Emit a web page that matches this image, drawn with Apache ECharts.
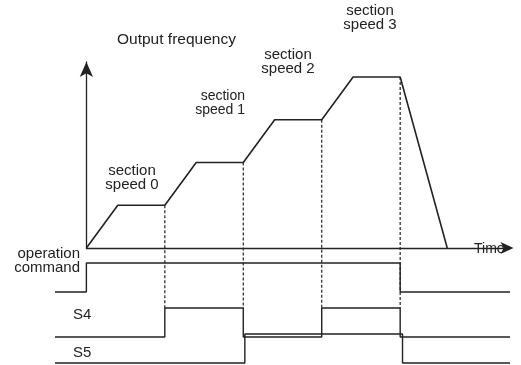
<!DOCTYPE html>
<html>
<head>
<meta charset="utf-8">
<script src="https://cdn.jsdelivr.net/npm/echarts@6/dist/echarts.min.js"></script>
<style>
  html, body { margin: 0; padding: 0; background: #fff; }
  #chart { width: 521px; height: 365px; }
</style>
</head>
<body>
<div id="chart"></div>
<script>
// output frequency: time (arbitrary units) vs section level
var freqTime = [0, 2, 5, 7, 10, 12, 15, 17, 20, 23];
var freqLevel = [0, 1, 1, 2, 2, 3, 3, 4, 4, 0];
// moments where the S4/S5 inputs switch the section speed
var switchTimes = [5, 10, 15, 20];
// digital signals (0 = low, 1 = high)
var runTime = [-2, 0, 0, 20, 20, 27];
var runLevel = [0, 0, 1, 1, 0, 0];
var s4Time = [-2, 5, 5, 10, 10, 15, 15, 20, 20, 27];
var s4Level = [0, 0, 1, 1, 0, 0, 1, 1, 0, 0];
var s5Time = [-2, 10.1, 10.1, 20.15, 20.15, 27];
var s5Level = [0, 0, 1, 1, 0, 0];

var ink = '#222';

function zip(xs, ys) {
  return xs.map(function (x, i) { return [x, ys[i]]; });
}

function signalSeries(idx, xs, ys) {
  return {
    type: 'line',
    xAxisIndex: idx,
    yAxisIndex: idx,
    data: zip(xs, ys),
    symbol: 'none',
    clip: false,
    silent: true,
    lineStyle: { color: ink, width: 1.4 }
  };
}

var hidden = { show: false };
function sigX() {
  return { type: 'value', min: -2, max: 27, show: false };
}
function sigY(idx) {
  return { type: 'value', min: 0, max: 1, show: false, gridIndex: idx };
}

var option = {
  backgroundColor: '#fff',
  animation: false,
  grid: [
    { left: 86.4, right: 11, top: 62, bottom: 117 },
    { left: 55, right: 11, top: 263, height: 29 },
    { left: 55, right: 11, top: 308, height: 29 },
    { left: 55, right: 11, top: 334, height: 29 }
  ],
  xAxis: [
    {
      type: 'value', gridIndex: 0, min: 0, max: 27,
      axisLine: {
        show: true, onZero: false,
        symbol: ['none', 'arrow'], symbolSize: [9, 13], symbolOffset: [0, 3.5],
        lineStyle: { color: ink, width: 1.3 }
      },
      axisTick: hidden, axisLabel: hidden, splitLine: hidden
    },
    Object.assign(sigX(), { gridIndex: 1 }),
    Object.assign(sigX(), { gridIndex: 2 }),
    Object.assign(sigX(), { gridIndex: 3 })
  ],
  yAxis: [
    {
      type: 'value', gridIndex: 0, min: 0, max: 4.35,
      axisLine: {
        show: true, onZero: false,
        symbol: ['none', 'arrow'], symbolSize: [10, 15],
        lineStyle: { color: ink, width: 1.3 }
      },
      axisTick: hidden, axisLabel: hidden, splitLine: hidden
    },
    sigY(1), sigY(2), sigY(3)
  ],
  series: [
    {
      type: 'line',
      xAxisIndex: 0,
      yAxisIndex: 0,
      data: zip(freqTime, freqLevel),
      symbol: 'none',
      clip: false,
      silent: true,
      lineStyle: { color: ink, width: 1.6 }
    },
    signalSeries(1, runTime, runLevel),
    signalSeries(2, s4Time, s4Level),
    signalSeries(3, s5Time, s5Level)
  ]
};

var chart = echarts.init(document.getElementById('chart'), null, { renderer: 'canvas' });
chart.setOption(option);

// dashed guides from each plateau corner down to the S4 high level
var guides = switchTimes.map(function (t) {
  var lvl = freqLevel[freqTime.indexOf(t)];
  var p1 = chart.convertToPixel({ gridIndex: 0 }, [t, lvl]);
  var p2 = chart.convertToPixel({ gridIndex: 2 }, [t, 1]);
  return {
    type: 'line',
    silent: true,
    shape: { x1: p1[0], y1: p1[1], x2: p1[0], y2: p2[1] },
    style: { stroke: ink, lineWidth: 1.2, lineDash: [3, 2] },
    z: 1
  };
});

function txt(str, x, y, align, size) {
  return {
    type: 'text',
    silent: true,
    x: x,
    y: y,
    style: {
      text: str,
      fill: ink,
      font: (size || 15) + 'px "Liberation Sans", Arial, sans-serif',
      align: align || 'center',
      verticalAlign: 'middle',
      lineHeight: 14.5
    },
    z: 10
  };
}

var labels = [
  txt('Output frequency', 117, 40, 'left', 15.5),
  txt('section\nspeed 0', 132, 178),
  txt('section\nspeed 1', 245, 103, 'right', 14),
  txt('section\nspeed 2', 288, 62),
  txt('section\nspeed 3', 370, 18),
  txt('Time', 474, 249, 'left', 14),
  txt('operation\ncommand', 80, 261, 'right'),
  txt('S4', 73, 315, 'left'),
  txt('S5', 73, 353, 'left')
];

chart.setOption({ graphic: guides.concat(labels) });
</script>
</body>
</html>
